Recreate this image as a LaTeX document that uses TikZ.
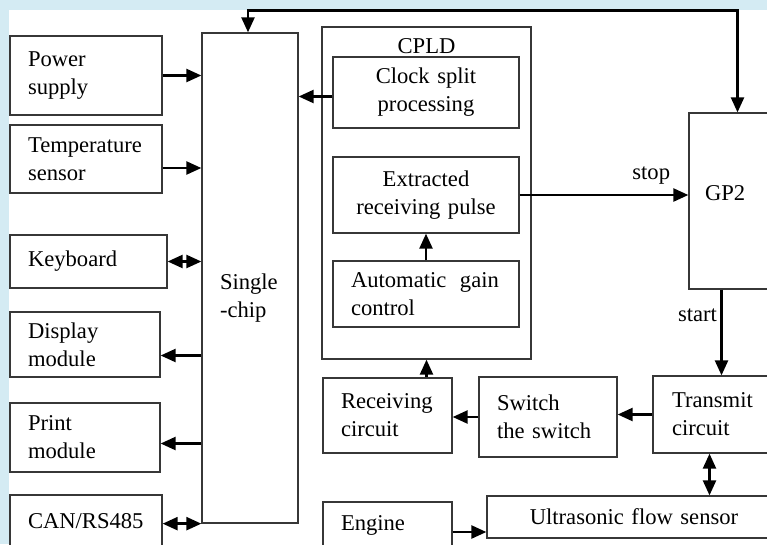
\documentclass[tikz,border=0pt]{standalone}
\usepackage{fontspec}
\setmainfont{Liberation Serif}
\usetikzlibrary{arrows.meta}
\definecolor{bgblue}{RGB}{212,235,243}
\definecolor{boxline}{RGB}{55,55,55}
\begin{document}
\begin{tikzpicture}[x=1pt,y=-1pt,
  every node/.style={font=\fontsize{22.6}{28}\selectfont},
  blk/.style={draw=boxline, line width=1.3pt, inner xsep=18pt, inner ysep=0pt, align=left},
  cblk/.style={blk, align=center},
  arr/.style={line width=2.4pt, -{Triangle[length=15pt,width=13pt]}},
  darr/.style={line width=2.4pt, {Triangle[length=15pt,width=13pt]}-{Triangle[length=15pt,width=13pt]}}]
\useasboundingbox (0,0) rectangle (767,544);
\clip (0,0) rectangle (767,544);
\fill[bgblue] (0,0) rectangle (767,544);
\fill[white] (9,10) rectangle (767,544);

\node[blk, text width=116pt, minimum height=79pt] (power) at (86,75.5) {Power\\supply};
\node[blk, text width=116pt, minimum height=68pt] (temp) at (86,159) {Temperature\\sensor};
\node[blk, text width=121pt, minimum height=53pt] (keyb) at (88.5,261.5) {Keyboard};
\node[blk, text width=114pt, minimum height=65pt] (disp) at (85,344.5) {Display\\module};
\node[blk, text width=114pt, minimum height=69pt] (print) at (85,437.5) {Print\\module};
\node[blk, text width=116pt, minimum height=53pt] (can) at (86,521.5) {CAN/RS485};
\node[blk, text width=60pt, minimum height=490pt] (chip) at (250,278) {\rule{0pt}{56pt}Single\\-chip};

\node[draw=boxline, line width=1.3pt, minimum width=209pt, minimum height=332pt] (cpld) at (426.5,193) {};
\node[below=9pt] (cpldname) at (cpld.north) {CPLD};
\node[cblk, text width=150pt, minimum height=71pt] (clock) at (426,92.5) {Clock split\\processing};
\node[cblk, text width=150pt, minimum height=76pt] (extract) at (426,195) {Extracted\\receiving pulse};
\node[blk, text width=150pt, minimum height=66pt] (agc) at (426,294) {Automatic\hspace{0.6em}gain\\control};

\node[blk, inner xsep=16pt, text width=69pt, minimum height=176pt] (gp2) at (739.5,201) {GP2\vspace{16pt}};
\node[blk, text width=93pt, minimum height=75pt] (recv) at (387.5,415.5) {Receiving\\circuit};
\node[blk, text width=102pt, minimum height=80pt] (switch) at (548,417) {Switch\\the switch};
\node[blk, inner xsep=19pt, text width=99pt, minimum height=77pt] (trans) at (721.5,414.5) {Transmit\\circuit};
\node[cblk, text width=258pt, minimum height=42pt] (ultra) at (634,517) {Ultrasonic flow sensor};
\node[blk, text width=93pt, minimum height=46pt] (engine) at (387.5,525) {Engine};

% single-chip side
\path[draw,arr] (power.east) -- (power.east -| chip.west);
\path[draw,arr] ([yshift=-9pt]temp.east) -- ([yshift=-9pt]temp.east -| chip.west);
\path[draw,darr] (keyb.east) -- (keyb.east -| chip.west);
\path[draw,arr] ([yshift=-11pt]disp.east -| chip.west) -- ([yshift=-11pt]disp.east);
\path[draw,arr] ([yshift=-6pt]print.east -| chip.west) -- ([yshift=-6pt]print.east);
\path[draw,darr] (can.east |- chip.south west) -- (chip.south west);
\path[draw,arr] ([yshift=-4pt]clock.west) -- ([yshift=-4pt]clock.west -| chip.east);
\path[draw,darr] ([xshift=-2pt]chip.north) -- ++(0,-22) -| ([xshift=-2pt]gp2.north);

% CPLD and GP2
\path[draw,arr] (extract.east) -- (extract.east -| gp2.west) node[above=6pt,pos=0.78] {stop};
\path[draw,arr] (agc.north) -- (extract.south);
\path[draw,arr] (cpld.south |- recv.north) -- (cpld.south);
\path[draw,arr] (gp2.south -| trans.north) -- (trans.north) node[left,pos=0.3] {start};

% transmit / receive
\path[draw,arr] (trans.west) -- (trans.west -| switch.east);
\path[draw,arr] (switch.west) -- (switch.west -| recv.east);
\path[draw,darr] ([xshift=-12pt]trans.south) -- ([xshift=-12pt]trans.south |- ultra.north);
\path[draw,arr] ([yshift=-7pt]engine.east) -- ([yshift=-7pt]engine.east -| ultra.west);
\end{tikzpicture}
\end{document}
